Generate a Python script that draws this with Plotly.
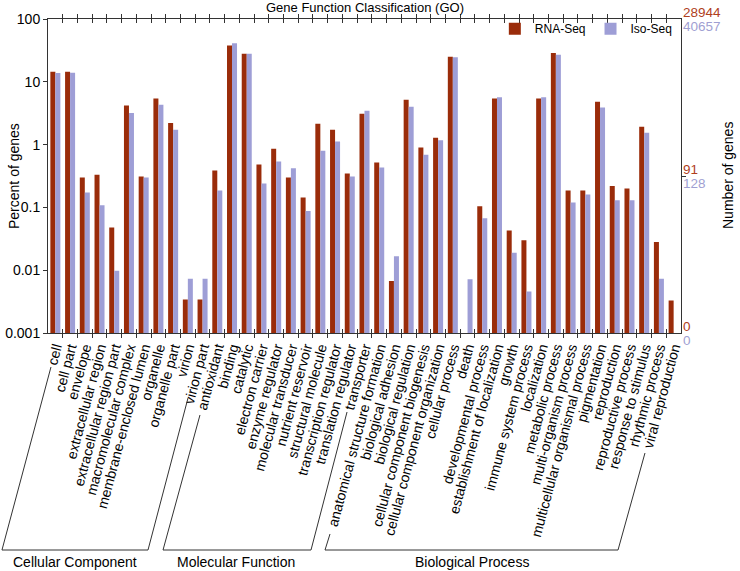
import math
import plotly.graph_objects as go

# GO categories, grouped by top-level ontology
cc_terms = ["cell", "cell part", "envelope", "extracellular region",
            "extracellular region part", "macromolecular complex",
            "membrane-enclosed lumen", "organelle", "organelle part",
            "virion", "virion part"]
mf_terms = ["antioxidant", "binding", "catalytic", "electron carrier",
            "enzyme regulator", "molecular transducer", "nutrient reservoir",
            "structural molecule", "transcription regulator",
            "translation regulator", "transporter"]
bp_terms = ["anatomical structure formation", "biological adhesion",
            "biological regulation", "cellular component biogenesis",
            "cellular component organization", "cellular process", "death",
            "developmental process", "establishment of localization", "growth",
            "immune system process", "localization", "metabolic process",
            "multi-organism process", "multicellular organismal process",
            "pigmentation", "reproduction", "reproductive process",
            "response to stimulus", "rhythmic process", "viral reproduction"]

# percent of genes
cc_rna = [14.4, 14.5, 0.30, 0.33, 0.048, 4.2, 0.31, 5.4, 2.2, 0.0034, 0.0034]
cc_iso = [13.8, 13.9, 0.173, 0.108, 0.0098, 3.2, 0.30, 4.3, 1.73, 0.0073, 0.0073]
mf_rna = [0.386, 38, 28, 0.48, 0.86, 0.30, 0.144, 2.15, 1.73, 0.347, 3.1]
mf_iso = [0.186, 41, 28, 0.24, 0.54, 0.42, 0.088, 0.80, 1.12, 0.31, 3.47]
bp_rna = [0.52, 0.0067, 5.2, 0.90, 1.29, 25, None, 0.104, 5.4, 0.043, 0.030,
          5.4, 28.8, 0.186, 0.186, 4.8, 0.22, 0.20, 1.93, 0.028, 0.0033]
bp_iso = [0.43, 0.0167, 4.0, 0.69, 1.17, 24.5, 0.0072, 0.067, 5.7, 0.019, 0.0046,
          5.7, 27, 0.12, 0.16, 3.9, 0.13, 0.13, 1.55, 0.0073, None]

# gene counts shown on the right axis
rna_total = 28944
iso_total = 40657
rna_mid = 91
iso_mid = 128

RED = "#9a2c0a"
BLUE = "#9e9ed6"
RED_TXT = "#b0401c"
BLUE_TXT = "#9f9fd2"
FONT = "Liberation Sans, Arial, Helvetica, sans-serif"

terms = cc_terms + mf_terms + bp_terms
rna = cc_rna + mf_rna + bp_rna
iso = cc_iso + mf_iso + bp_iso

fig = go.Figure()
fig.add_trace(go.Bar(x=terms, y=rna, name="RNA-Seq", marker_color=RED,
                     marker_line_width=0))
fig.add_trace(go.Bar(x=terms, y=iso, name="Iso-Seq", marker_color=BLUE,
                     marker_line_width=0))

# plot area in pixels (used to place the decorative brackets)
L, R, T, B = 48, 681, 19, 333


def px(x, y):
    return (x - L) / (R - L), (B - y) / (B - T)


def path(points):
    pts = [px(*p) for p in points]
    return "M " + " L ".join(f"{a:.4f},{b:.4f}" for a, b in pts)


brackets = [
    [(51, 367), (2, 550), (148, 550), (188, 398)],
    [(200, 415), (163, 550), (311, 550), (347, 412)],
    [(330, 534), (325, 550), (618, 550), (645, 453)],
]
shapes = [dict(type="path", xref="paper", yref="paper", path=path(b),
               line=dict(color="#333333", width=1)) for b in brackets]

groups = [("Cellular Component", 75), ("Molecular Function", 236),
          ("Biological Process", 472)]
annotations = []
for name, cx in groups:
    gx, gy = px(cx, 562)
    annotations.append(dict(text=name, x=gx, y=gy, xref="paper", yref="paper",
                            xanchor="center", yanchor="middle",
                            showarrow=False, font=dict(size=14, color="black")))

# right side "Number of genes" labels
mid_pct = 100 * rna_mid / rna_total
right_labels = [
    (2, str(rna_total), str(iso_total)),
    (math.log10(mid_pct), str(rna_mid), str(iso_mid)),
    (-3, "0", "0"),
]
for yv, rtxt, btxt in right_labels:
    for txt, col, sh in [(rtxt, RED_TXT, 7), (btxt, BLUE_TXT, -7)]:
        annotations.append(dict(text=txt, x=1.0, y=yv, xref="paper", yref="y",
                                xanchor="left", yanchor="middle", xshift=1,
                                yshift=sh, showarrow=False, borderpad=0,
                                font=dict(size=13.5, color=col)))

annotations.append(dict(text="Percent of genes", x=px(14, 0)[0], y=0.5,
                        xref="paper", yref="paper", textangle=-90,
                        xanchor="center", yanchor="middle",
                        showarrow=False, font=dict(size=14, color="black")))
annotations.append(dict(text="Number of genes", x=px(728, 0)[0], y=0.5,
                        xref="paper", yref="paper", textangle=-90,
                        xanchor="center", yanchor="middle",
                        showarrow=False, font=dict(size=14, color="black")))
annotations.append(dict(text="Gene Function Classification (GO)", x=0.5,
                        y=px(0, 8)[1], xref="paper", yref="paper",
                        xanchor="center", yanchor="middle",
                        showarrow=False, font=dict(size=13, color="black")))

# invisible trace so the right axis (tick mark only) is drawn
fig.add_trace(go.Scatter(x=[terms[0]], y=[1], yaxis="y2", mode="markers",
                         marker=dict(opacity=0), showlegend=False,
                         hoverinfo="skip"))

fig.update_layout(
    width=740, height=571,
    margin=dict(l=L, r=740 - R, t=T, b=571 - B, autoexpand=False),
    plot_bgcolor="white", paper_bgcolor="white",
    font=dict(family=FONT, color="black"),
    barmode="group", bargap=0.32, bargroupgap=0,
    showlegend=True,
    legend=dict(orientation="h", x=0.995, xanchor="right", y=1.015,
                yanchor="top", bgcolor="rgba(0,0,0,0)", font=dict(size=12),
                itemwidth=30, tracegroupgap=0),
    xaxis=dict(type="category", range=[-0.5, len(terms) - 0.5],
               tickmode="linear", tick0=0, dtick=1,
               tickangle=-75, tickfont=dict(size=14), automargin=False,
               ticks="inside", ticklen=4, tickson="boundaries",
               tickcolor="#333333", showline=True, linecolor="#333333",
               mirror="allticks", showgrid=False),
    yaxis=dict(type="log", range=[-3, 2], automargin=False,
               tickvals=[0.001, 0.01, 0.1, 1, 10, 100],
               ticktext=["0.001", "0.01", "0.1", "1", "10", "100"],
               ticks="outside", ticklen=4, tickcolor="#333333",
               tickfont=dict(size=14), showline=True, linecolor="#333333",
               mirror=True, showgrid=False, zeroline=False),
    yaxis2=dict(type="log", range=[-3, 2], overlaying="y", side="right",
                automargin=False,
                tickvals=[mid_pct], ticktext=[""], ticks="outside", ticklen=4,
                tickcolor="#333333", showline=False, showgrid=False,
                zeroline=False),
    shapes=shapes,
    annotations=annotations,
)

fig.write_html("out.html", config={"displayModeBar": False},
               post_script="document.body.style.margin='0px';")
